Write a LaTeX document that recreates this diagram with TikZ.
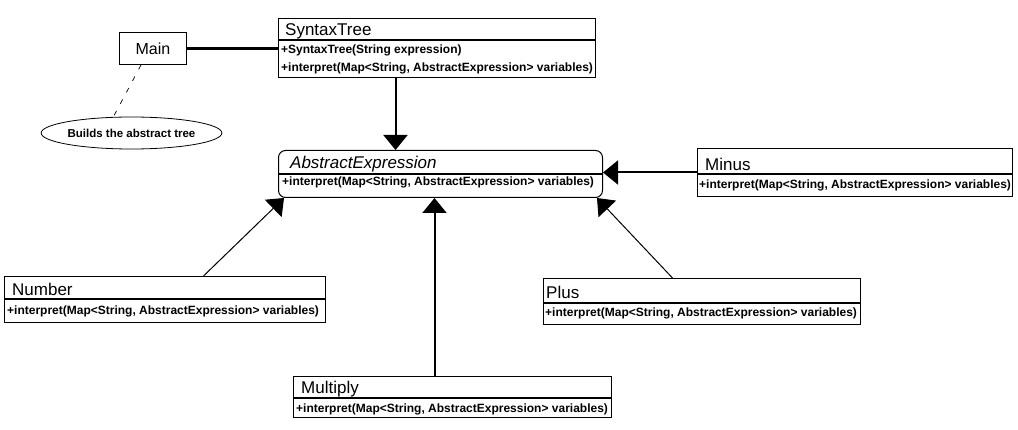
\documentclass[tikz,border=0pt]{standalone}
\usepackage{fontspec}
\setmainfont{Liberation Sans}
\usetikzlibrary{arrows.meta,shapes.geometric}
\begin{document}
\begin{tikzpicture}[x=1pt,y=-1pt,
  classbox/.style={draw, line width=1pt, anchor=north west, inner sep=0pt},
  hdr/.style={line width=2pt},
  ttl/.style={anchor=base west, inner sep=0pt, font=\fontsize{17}{19}\selectfont},
  mth/.style={anchor=base west, inner sep=0pt, font=\fontsize{12}{14}\selectfont\bfseries},
  gen/.style={-{Triangle[length=15pt,width=24pt]}},
  thickline/.style={line width=2pt},
  thinline/.style={line width=1pt}]
\useasboundingbox[fill=white] (0,0) rectangle (1018,430);

% Main and note
\node[draw, line width=1pt, minimum width=67pt, minimum height=32pt, anchor=north west, inner sep=0pt,
      font=\fontsize{16}{18}\selectfont] (main) at (119,32) {Main};
\node[draw, line width=0.8pt, ellipse, minimum width=159pt, minimum height=32pt, inner sep=0pt,
      font=\fontsize{11.5}{13}\selectfont\bfseries] (note) at (131.5,133) {Builds the abstract tree};

% SyntaxTree
\node[classbox, minimum width=317pt, minimum height=59pt] (st) at (278,18) {};
\draw[hdr] (st.west |- 0,40) -- (st.east |- 0,40);
\node[ttl] (stt) at (285,36) {SyntaxTree};
\node[mth] (stm1) at (281,54) {+SyntaxTree(String expression)};
\node[mth] (stm2) at (281,72) {+interpret(Map<String, AbstractExpression> variables)};

% AbstractExpression
\node[classbox, rounded corners=7pt, minimum width=324pt, minimum height=47pt] (ae) at (278,150) {};
\draw[hdr] (ae.west |- 0,174) -- (ae.east |- 0,174);
\node[ttl, font=\fontsize{17}{19}\selectfont\itshape] (aet) at (290,169) {AbstractExpression};
\node[mth] (aem) at (282,186) {+interpret(Map<String, AbstractExpression> variables)};

% Minus
\node[classbox, minimum width=315pt, minimum height=48pt] (mi) at (697,148) {};
\draw[hdr] (mi.west |- 0,174) -- (mi.east |- 0,174);
\node[ttl] (mit) at (705,171) {Minus};
\node[mth] (mim) at (699,189) {+interpret(Map<String, AbstractExpression> variables)};

% Number
\node[classbox, minimum width=321pt, minimum height=46pt] (num) at (4,276) {};
\draw[hdr] (num.west |- 0,299) -- (num.east |- 0,299);
\node[ttl] (numt) at (12,296) {Number};
\node[mth] (numm) at (7,315) {+interpret(Map<String, AbstractExpression> variables)};

% Plus
\node[classbox, minimum width=317pt, minimum height=46pt] (pl) at (543,278) {};
\draw[hdr] (pl.west |- 0,303) -- (pl.east |- 0,303);
\node[ttl] (plt) at (546,299) {Plus};
\node[mth] (plm) at (545,317) {+interpret(Map<String, AbstractExpression> variables)};

% Multiply
\node[classbox, minimum width=318pt, minimum height=41pt] (mul) at (293,376) {};
\draw[hdr] (mul.west |- 0,398) -- (mul.east |- 0,398);
\node[ttl] (mult) at (301,394) {Multiply};
\node[mth] (mulm) at (296,413) {+interpret(Map<String, AbstractExpression> variables)};

% connectors
\draw[line width=2.5pt] (main.east) -- (main.east -| st.west);
\draw[dashed, dash pattern=on 5pt off 8pt, line width=0.7pt] ([xshift=-12pt]main.south) -- ([xshift=-18pt]note.north);
\draw[thickline, gen] ([xshift=-41.5pt]st.south) -- ([xshift=-41.5pt]st.south |- ae.north);
\draw[thickline, gen] (mi.west) -- (mi.west -| ae.east);
\draw[thickline, gen] ([xshift=-18pt]mul.north) -- ([xshift=-18pt]mul.north |- ae.south);
\draw[thinline, gen] ([xshift=38.5pt]num.north) -- ([xshift=6pt]ae.south west);
\draw[thinline, gen] ([xshift=-29.5pt]pl.north) -- ([xshift=-6pt]ae.south east);
\end{tikzpicture}
\end{document}
